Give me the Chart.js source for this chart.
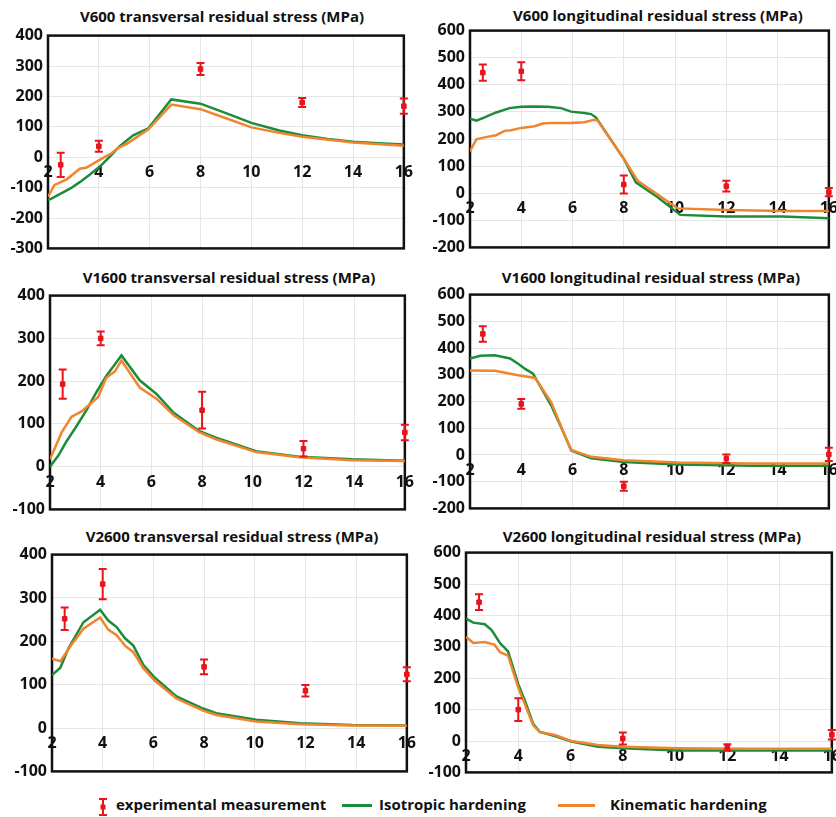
<!DOCTYPE html>
<html>
<head>
<meta charset="utf-8">
<script src="https://cdn.jsdelivr.net/npm/chart.js@4.4.1/dist/chart.umd.min.js"></script>
<style>
  body { margin: 0; width: 836px; height: 817px; overflow: hidden; background: #fff; position: relative; font-family: "Open Sans", sans-serif; color: #111; }
  canvas { position: absolute; }
  .ttl { position: absolute; font-weight: bold; font-size: 15px; white-space: nowrap; transform: translate(-50%, -50%); }
  .lg { position: absolute; font-weight: bold; font-size: 15px; white-space: nowrap; top: 794px; }
  .ln { position: absolute; height: 3px; top: 804px; }
</style>
</head>
<body>
<div class="ttl" style="left:222px;top:16px">V600 transversal residual stress (MPa)</div>
<div class="ttl" style="left:658px;top:15px">V600 longitudinal residual stress (MPa)</div>
<div class="ttl" style="left:229px;top:277px">V1600 transversal residual stress (MPa)</div>
<div class="ttl" style="left:651px;top:277px">V1600 longitudinal residual stress (MPa)</div>
<div class="ttl" style="left:232px;top:536px">V2600 transversal residual stress (MPa)</div>
<div class="ttl" style="left:652px;top:536px">V2600 longitudinal residual stress (MPa)</div>

<canvas id="c1"></canvas>
<canvas id="c2"></canvas>
<canvas id="c3"></canvas>
<canvas id="c4"></canvas>
<canvas id="c5"></canvas>
<canvas id="c6"></canvas>

<svg style="position:absolute;left:97px;top:797px" width="12" height="20">
  <path d="M2 2H10M6 2V18M2 18H10" stroke="#e8141b" stroke-width="2" fill="none"/>
  <rect x="3.5" y="7.5" width="5" height="5" fill="#e8141b"/>
</svg>
<span class="lg" style="left:116px">experimental measurement</span>
<div class="ln" style="left:342px;width:30px;background:#1c8c3c"></div>
<span class="lg" style="left:379px">Isotropic hardening</span>
<div class="ln" style="left:558px;width:37px;background:#f0852d"></div>
<span class="lg" style="left:610px">Kinematic hardening</span>

<script>
// V600 transversal
const v600tExpX = [2.5, 4, 8, 12, 16];
const v600tExp = [-25, 36, 290, 180, 168];
const v600tErr = [40, 18, 20, 15, 25];
const v600tIsoX = [2, 2.1, 2.5, 2.9, 3.25, 3.65, 4.05, 4.5, 4.8, 5.35, 5.95, 6.85, 8, 9, 10, 11.1, 12, 13, 14, 15, 16];
const v600tIso = [-140, -138, -120, -102, -82, -57, -30, 8, 35, 72, 95, 190, 176, 145, 113, 88, 72, 60, 51, 46, 42];
const v600tKinX = [2, 2.25, 2.75, 3.25, 3.5, 4.05, 4.5, 4.75, 5.1, 5.95, 6.85, 8, 9, 10, 11.1, 12, 14, 16];
const v600tKin = [-130, -92, -72, -38, -35, -8, 13, 30, 44, 92, 173, 158, 128, 98, 80, 67, 48, 38];

// V600 longitudinal
const v600lExpX = [2.5, 4, 8, 12, 16];
const v600lExp = [445, 450, 32, 26, 4];
const v600lErr = [30, 33, 33, 20, 15];
const v600lIsoX = [2, 2.25, 2.57, 3.02, 3.54, 4, 4.45, 5.04, 5.55, 5.94, 6.46, 6.72, 6.91, 8.02, 8.47, 9.31, 10.2, 12, 14.2, 16];
const v600lIso = [275, 268, 280, 298, 314, 319, 320, 319, 314, 301, 296, 292, 280, 124, 40, -14, -80, -86, -86, -92];
const v600lKinX = [2, 2.25, 2.57, 3.02, 3.35, 3.6, 4, 4.52, 4.84, 5.16, 5.94, 6.46, 6.85, 6.98, 8.02, 8.54, 10.1, 12, 14.2, 16];
const v600lKin = [154, 199, 206, 214, 230, 232, 241, 247, 257, 259, 259, 262, 271, 268, 124, 46, -56, -62, -66, -66];

// V1600 transversal
const v1600tExpX = [2.5, 4, 8, 12, 16];
const v1600tExp = [193, 300, 132, 42, 80];
const v1600tErr = [34, 16, 43, 18, 18];
const v1600tIsoX = [2, 2.33, 2.66, 3.05, 3.44, 3.83, 4.22, 4.82, 5.54, 6.2, 6.88, 7.9, 8.55, 10.13, 11.83, 13.93, 16];
const v1600tIso = [0, 26, 60, 95, 132, 174, 212, 260, 202, 170, 126, 83, 68, 36, 23, 17, 14];
const v1600tKinX = [2, 2.46, 2.85, 3.25, 3.9, 4.22, 4.56, 4.82, 5.54, 6.2, 6.88, 7.9, 8.55, 10.13, 11.83, 13.93, 16];
const v1600tKin = [17, 80, 117, 129, 163, 208, 223, 248, 185, 159, 120, 80, 64, 34, 22, 15, 13];

// V1600 longitudinal
const v1600lExpX = [2.5, 4, 8, 12, 16];
const v1600lExp = [453, 191, -117, -14, 2];
const v1600lErr = [29, 18, 17, 16, 25];
const v1600lIsoX = [2, 2.4, 2.97, 3.56, 3.88, 4.15, 4.46, 5.17, 5.69, 5.95, 6.73, 8, 10.1, 12.95, 16];
const v1600lIso = [361, 371, 373, 361, 341, 322, 304, 185, 75, 17, -12, -26, -36, -40, -40];
const v1600lKinX = [2, 2.97, 3.88, 4.54, 5.17, 5.69, 5.95, 6.73, 8, 10.1, 12.95, 16];
const v1600lKin = [316, 315, 298, 288, 197, 75, 19, -7, -20, -28, -32, -32];

// V2600 transversal
const v2600tExpX = [2.5, 4, 8, 12, 16];
const v2600tExp = [252, 332, 141, 86, 124];
const v2600tErr = [26, 35, 17, 13, 16];
const v2600tIsoX = [2, 2.33, 2.65, 3.24, 3.9, 4.22, 4.55, 4.88, 5.21, 5.6, 6.06, 6.91, 7.96, 8.48, 10.05, 11.8, 13.84, 16];
const v2600tIso = [122, 139, 184, 244, 273, 248, 233, 207, 190, 146, 116, 73, 45, 34, 19, 11, 7, 6];
const v2600tKinX = [2, 2.33, 2.72, 3.24, 3.9, 4.22, 4.55, 4.88, 5.21, 5.6, 6.06, 6.91, 7.96, 8.48, 10.05, 11.8, 13.84, 16];
const v2600tKin = [160, 154, 188, 229, 255, 227, 214, 190, 175, 138, 109, 68, 40, 30, 15, 9, 6, 5];

// V2600 longitudinal
const v2600lExpX = [2.5, 4, 8, 12, 16];
const v2600lExp = [442, 100, 8, -20, 20];
const v2600lErr = [25, 36, 19, 10, 15];
const v2600lIsoX = [2, 2.28, 2.72, 2.98, 3.3, 3.61, 4, 4.25, 4.57, 4.82, 5.4, 6.03, 7.05, 8, 10.1, 12.9, 16];
const v2600lIso = [390, 377, 372, 353, 312, 285, 181, 129, 55, 29, 16, -2, -18, -23, -30, -30, -30];
const v2600lKinX = [2, 2.28, 2.72, 3.1, 3.3, 3.61, 4, 4.25, 4.57, 4.82, 5.4, 6.03, 7.05, 8, 10.1, 12.9, 16];
const v2600lKin = [332, 312, 315, 306, 283, 272, 170, 118, 50, 29, 19, 0, -13, -18, -23, -25, -25];

const red = '#e8141b';
const green = '#1c8c3c';
const orange = '#f0852d';
const tickFont = { family: 'Open Sans', size: 16, weight: 'bold' };

function pts(xs, ys) {
    return xs.map((x, i) => ({ x: x, y: ys[i] }));
}

// marco negro alrededor del área del gráfico
const framePlugin = {
    id: 'frame',
    beforeDatasetsDraw(chart) {
        const { ctx, chartArea: a } = chart;
        ctx.save();
        ctx.strokeStyle = '#111';
        ctx.lineWidth = 2.5;
        ctx.strokeRect(a.left, a.top, a.right - a.left, a.bottom - a.top);
        ctx.restore();
    }
};

// barras de error con la escala del gráfico
const errorBarPlugin = {
    id: 'errorBars',
    afterDatasetsDraw(chart) {
        const { ctx, scales } = chart;
        chart.data.datasets.forEach(ds => {
            if (!ds.errors) return;
            ctx.save();
            ctx.strokeStyle = ds.borderColor;
            ctx.lineWidth = 2;
            ds.data.forEach((p, j) => {
                const px = scales.x.getPixelForValue(p.x);
                const top = scales.y.getPixelForValue(p.y + ds.errors[j]);
                const bot = scales.y.getPixelForValue(p.y - ds.errors[j]);
                ctx.beginPath();
                ctx.moveTo(px, top); ctx.lineTo(px, bot);
                ctx.moveTo(px - 4, top); ctx.lineTo(px + 4, top);
                ctx.moveTo(px - 4, bot); ctx.lineTo(px + 4, bot);
                ctx.stroke();
            });
            ctx.restore();
        });
    }
};

function dibujar(id, box, yMin, yMax, expX, exp, err, isoX, iso, kinX, kin) {
    const canvas = document.getElementById(id);
    const w = box.r - box.l + 50 + 14;
    const h = box.b - box.t + 24;
    canvas.width = w;
    canvas.height = h;
    canvas.style.left = (box.l - 50) + 'px';
    canvas.style.top = (box.t - 12) + 'px';

    new Chart(canvas.getContext('2d'), {
        type: 'line',
        data: {
            datasets: [
                {
                    type: 'scatter',
                    data: pts(expX, exp),
                    errors: err,
                    borderColor: red,
                    backgroundColor: red,
                    pointStyle: 'rect',
                    pointRadius: 3.2,
                    clip: false
                },
                {
                    data: pts(kinX, kin),
                    borderColor: orange,
                    borderWidth: 2.5,
                    pointRadius: 0,
                    fill: false
                },
                {
                    data: pts(isoX, iso),
                    borderColor: green,
                    borderWidth: 2.5,
                    pointRadius: 0,
                    fill: false
                }
            ]
        },
        options: {
            responsive: false,
            animation: false,
            layout: { padding: { left: 0, top: 12, right: 14, bottom: 12 } },
            plugins: { legend: { display: false }, tooltip: { enabled: false } },
            scales: {
                x: {
                    type: 'linear',
                    position: { y: 0 },
                    min: 2, max: 16,
                    ticks: { stepSize: 2, font: tickFont, color: '#111', padding: 6, maxRotation: 0 },
                    grid: { color: '#e6e6e6', drawTicks: false },
                    border: { display: false }
                },
                y: {
                    min: yMin, max: yMax,
                    ticks: { stepSize: 100, font: tickFont, color: '#111', padding: 5 },
                    grid: { color: '#e6e6e6', drawTicks: false },
                    border: { display: false },
                    afterFit(scale) { scale.width = 50; }
                }
            }
        },
        plugins: [framePlugin, errorBarPlugin]
    });
}

dibujar('c1', { l: 48, t: 33, r: 405, b: 251 }, -300, 400, v600tExpX, v600tExp, v600tErr, v600tIsoX, v600tIso, v600tKinX, v600tKin);
dibujar('c2', { l: 470, t: 28, r: 830, b: 250 }, -200, 600, v600lExpX, v600lExp, v600lErr, v600lIsoX, v600lIso, v600lKinX, v600lKin);
dibujar('c3', { l: 50, t: 293, r: 406, b: 512 }, -100, 400, v1600tExpX, v1600tExp, v1600tErr, v1600tIsoX, v1600tIso, v1600tKinX, v1600tKin);
dibujar('c4', { l: 470, t: 292, r: 830, b: 511 }, -200, 600, v1600lExpX, v1600lExp, v1600lErr, v1600lIsoX, v1600lIso, v1600lKinX, v1600lKin);
dibujar('c5', { l: 52, t: 552, r: 408, b: 774 }, -100, 400, v2600tExpX, v2600tExp, v2600tErr, v2600tIsoX, v2600tIso, v2600tKinX, v2600tKin);
dibujar('c6', { l: 466, t: 550, r: 833, b: 775 }, -100, 600, v2600lExpX, v2600lExp, v2600lErr, v2600lIsoX, v2600lIso, v2600lKinX, v2600lKin);
</script>
</body>
</html>
